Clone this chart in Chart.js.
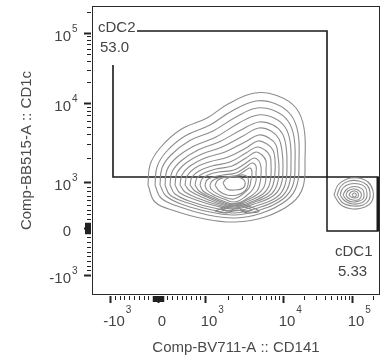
<!DOCTYPE html>
<html>
<head>
<meta charset="utf-8">
<script src="https://cdn.jsdelivr.net/npm/chart.js@4.4.1/dist/chart.umd.min.js"></script>
<style>
  html, body { margin: 0; padding: 0; background: #fff; }
  #wrap { width: 388px; height: 362px; }
</style>
</head>
<body>
<div id="wrap"><canvas id="plot" width="388" height="362"></canvas></div>
<script>
// values are in display channels of the biexponential axes (0..288 across, 0..289 up)
const xTickPos = [18, 66, 113, 191, 260];
const xTickBase = ['-10', '0', '10', '10', '10'];
const xTickExp = ['3', '', '3', '4', '5'];
const yTickPos = [20, 67, 113, 192, 262];
const yTickBase = ['-10', '0', '10', '10', '10'];
const yTickExp = ['3', '', '3', '4', '5'];
const xTitle = 'Comp-BV711-A :: CD141';
const yTitle = 'Comp-BB515-A :: CD1c';

const gateNames = ['cDC2', 'cDC1'];
const gateFreqs = ['53.0', '5.33'];
const cdc2Gate = [[45, 264], [235, 264], [235, 118], [21, 118], [21, 230]];
const cdc1Gate = [[235, 118], [286, 118], [286, 64], [235, 64], [235, 118]];

// density contours, main population (outer -> inner)
const mainRings = [
  [[56,110],[58,130],[68,147],[88,165],[115,177],[136,191],[163,202],[186,199],[204,187],[212,167],[213,135],[211,108],[200,92],[173,78],[143,73],[113,76],[83,84],[63,93]],
  [[63,110],[65,128],[74,143],[93,159],[118,170],[140,184],[164,194],[184,191],[199,180],[206,162],[207,135],[205,110],[195,95],[170,82],[143,77],[116,80],[88,88],[69,97]],
  [[68,110],[70,127],[79,140],[97,154],[121,164],[144,178],[165,187],[183,184],[196,174],[202,158],[203,133],[201,110],[191,96],[168,85],[143,80],[118,83],[92,90],[74,99]],
  [[73,110],[75,125],[84,137],[102,149],[124,158],[147,172],[166,180],[182,177],[193,168],[198,154],[199,132],[197,110],[188,97],[166,87],[143,82],[120,85],[96,92],[78,100]],
  [[78,110],[80,123],[89,134],[106,145],[127,153],[149,165],[167,173],[181,170],[190,162],[194,149],[195,130],[193,110],[185,98],[164,89],[143,84],[122,87],[100,93],[83,101]],
  [[83,110],[85,122],[94,132],[110,141],[130,148],[151,159],[167,167],[179,164],[187,156],[190,144],[191,128],[189,110],[181,99],[162,91],[143,86],[124,89],[104,95],[88,102]],
  [[88,110],[90,120],[98,129],[113,137],[133,143],[153,153],[167,160],[177,157],[184,150],[186,139],[187,126],[185,110],[178,100],[160,92],[143,87],[126,90],[108,96],[93,103]],
  [[93,110],[95,119],[103,127],[117,133],[136,138],[154,147],[166,154],[175,151],[181,145],[183,135],[183,123],[181,110],[175,101],[159,93],[143,88],[128,91],[112,97],[98,104]],
  [[98,110],[100,118],[107,124],[120,129],[138,133],[154,142],[165,148],[173,145],[178,139],[179,130],[179,120],[177,109],[171,101],[157,94],[143,89],[129,92],[115,98],[103,104]],
  [[103,110],[105,117],[112,122],[124,126],[140,129],[154,137],[164,143],[170,140],[174,134],[174,125],[174,117],[172,108],[166,101],[155,95],[143,90],[130,93],[118,98],[107,104]],
  [[108,110],[110,116],[116,120],[127,123],[142,125],[154,132],[162,137],[167,134],[169,128],[169,120],[168,112],[165,104],[156,97],[143,91],[131,94],[120,99],[111,104]],
  [[113,110],[115,115],[121,118],[131,120],[144,122],[154,128],[160,132],[164,129],[164,122],[164,114],[161,106],[154,99],[143,93],[132,96],[122,100],[115,105]],
  [[118,110],[120,114],[126,117],[136,118],[146,120],[154,125],[158,127],[160,123],[159,115],[157,107],[151,101],[142,96],[132,98],[124,102],[119,106]],
  [[123,110],[126,115],[134,118],[144,119],[152,120],[156,117],[156,110],[153,104],[145,100],[135,100],[127,104]],
  [[131,112],[134,116],[141,118],[149,117],[153,113],[151,107],[143,105],[135,106]]
];

// dense low-CD1c lobe under the main population
const lowLobes = [
  [[123,84],[134,88],[145,92],[156,89],[167,84],[156,82],[145,85],[134,82]],
  [[130,85],[138,88],[145,90],[153,88],[160,85],[153,84],[145,87],[137,84]]
];

// density contours, cDC1 population
const cdc1Rings = [
  [[242,100],[246,110],[255,116],[266,117],[276,113],[281,104],[280,94],[273,88],[261,86],[249,90]],
  [[245,100],[249,109],[257,114],[267,114],[275,110],[278,103],[277,95],[271,90],[261,89],[251,92]],
  [[248,100],[251,107],[258,111],[267,111],[273,108],[275,102],[274,96],[269,92],[261,91],[253,94]],
  [[251,100],[254,105],[259,108],[266,108],[271,105],[272,100],[271,96],[267,94],[261,93],[255,95]],
  [[254,100],[256,104],[261,106],[266,105],[269,102],[269,98],[266,95],[261,95],[256,97]],
  [[257,100],[259,103],[263,104],[266,102],[266,98],[263,97],[259,98]],
  [[260,100],[262,102],[264,101],[264,99],[262,98]]
];

// label anchors (display channels)
const gateLabelAt = [
  { name: [6, 267], freq: [8, 247] },
  { name: [243, 43], freq: [246, 23] }
];

const pts = arr => arr.map(([x, y]) => ({ x, y }));
const loop = arr => pts(arr.concat([arr[0]]));

const contourStyle = { showLine: true, pointRadius: 0, borderColor: '#8d8d8d', borderWidth: 1.1, tension: 0.4, fill: false };
const gateStyle = { showLine: true, pointRadius: 0, borderColor: '#1a1a1a', borderWidth: 1.5, tension: 0, fill: false };

const datasets = [
  ...mainRings.map(r => ({ ...contourStyle, data: loop(r) })),
  ...lowLobes.map(r => ({ ...contourStyle, borderColor: '#777', data: loop(r) })),
  ...cdc1Rings.map(r => ({ ...contourStyle, data: loop(r) })),
  { ...gateStyle, data: pts(cdc2Gate), borderWidth: 1.6 },
  { ...gateStyle, data: pts(cdc1Gate) },
  { ...gateStyle, data: pts([cdc1Gate[1], cdc1Gate[2]]), borderWidth: 3 }
];

const FONT = '"Liberation Sans", Arial, sans-serif';

const flowAxes = {
  id: 'flowAxes',
  afterDraw(chart) {
    const { ctx, chartArea: a, scales: { x, y } } = chart;
    ctx.save();
    ctx.strokeStyle = '#2a2a2a';
    ctx.lineWidth = 1;
    ctx.strokeRect(a.left + 0.5, a.top + 0.5, a.right - a.left - 1, a.bottom - a.top - 1);

    const minors = pos => {
      const out = [];
      for (let k = 1; k < 10; k++) out.push(pos[0] + (pos[1] - pos[0]) * k / 10);
      for (let k = 1; k < 10; k++) out.push(pos[1] + (pos[2] - pos[1]) * k / 10);
      for (let k = 2; k < 10; k++) out.push(pos[2] + (pos[3] - pos[2]) * Math.log10(k));
      for (let k = 2; k < 10; k++) out.push(pos[3] + (pos[4] - pos[3]) * Math.log10(k));
      for (let k = 2; k < 10; k++) out.push(pos[4] + (pos[4] - pos[3]) * Math.log10(k));
      return out;
    };

    const yTick = (v, len, w) => {
      const py = Math.round(y.getPixelForValue(v)) + 0.5;
      if (py < a.top || py > a.bottom) return;
      ctx.lineWidth = w;
      ctx.beginPath(); ctx.moveTo(a.left - 2 - len, py); ctx.lineTo(a.left - 1, py); ctx.stroke();
    };
    const xTick = (v, len, w) => {
      const px = Math.round(x.getPixelForValue(v)) + 0.5;
      if (px < a.left || px > a.right) return;
      ctx.lineWidth = w;
      ctx.beginPath(); ctx.moveTo(px, a.bottom + 1); ctx.lineTo(px, a.bottom + 2 + len); ctx.stroke();
    };

    ctx.strokeStyle = '#222';
    minors(yTickPos).forEach(v => yTick(v, 3, 1));
    minors(xTickPos).forEach(v => xTick(v, 3, 1));
    yTickPos.forEach(v => yTick(v, 6, 2));
    xTickPos.forEach(v => xTick(v, 6, 2));
    for (let d = -5; d <= 5; d++) { yTick(yTickPos[1] + d, 5, 1.5); xTick(xTickPos[1] + d, 5, 1.5); }

    ctx.fillStyle = '#444';
    ctx.textBaseline = 'middle';
    // y tick labels
    yTickPos.forEach((v, i) => {
      const py = y.getPixelForValue(v);
      ctx.font = '15px ' + FONT;
      ctx.textAlign = 'right';
      ctx.fillText(yTickBase[i], a.left - 21, py + 4);
      if (yTickExp[i]) {
        ctx.font = '10px ' + FONT;
        ctx.textAlign = 'left';
        ctx.fillText(yTickExp[i], a.left - 20, py - 4);
      }
    });
    // x tick labels
    xTickPos.forEach((v, i) => {
      const px = x.getPixelForValue(v) + 4;
      ctx.font = '15px ' + FONT;
      ctx.textAlign = 'center';
      ctx.fillText(xTickBase[i], px, a.bottom + 27);
      if (xTickExp[i]) {
        const w = ctx.measureText(xTickBase[i]).width;
        ctx.font = '10px ' + FONT;
        ctx.textAlign = 'left';
        ctx.fillText(xTickExp[i], px + w / 2 + 1, a.bottom + 15);
      }
    });

    // axis titles
    ctx.font = '15px ' + FONT;
    ctx.fillStyle = '#4a4a4a';
    ctx.textAlign = 'center';
    ctx.fillText(xTitle, (a.left + a.right) / 2, a.bottom + 53);
    ctx.translate(27, (a.top + a.bottom) / 2);
    ctx.rotate(-Math.PI / 2);
    ctx.fillText(yTitle, 0, 0);
    ctx.restore();

    // gate names and frequencies
    ctx.save();
    ctx.font = '15px ' + FONT;
    ctx.fillStyle = '#444';
    ctx.textAlign = 'left';
    ctx.textBaseline = 'middle';
    gateLabelAt.forEach((g, i) => {
      ctx.fillText(gateNames[i], x.getPixelForValue(g.name[0]), y.getPixelForValue(g.name[1]));
      ctx.fillText(gateFreqs[i], x.getPixelForValue(g.freq[0]), y.getPixelForValue(g.freq[1]));
    });
    ctx.restore();
  }
};

new Chart(document.getElementById('plot'), {
  type: 'scatter',
  data: { datasets },
  options: {
    responsive: false,
    animation: false,
    layout: { padding: { left: 92, right: 8, top: 6, bottom: 67 } },
    plugins: { legend: { display: false }, tooltip: { enabled: false } },
    scales: {
      x: { type: 'linear', min: 0, max: 288, display: false },
      y: { type: 'linear', min: 0, max: 289, display: false }
    }
  },
  plugins: [flowAxes]
});
</script>
</body>
</html>
